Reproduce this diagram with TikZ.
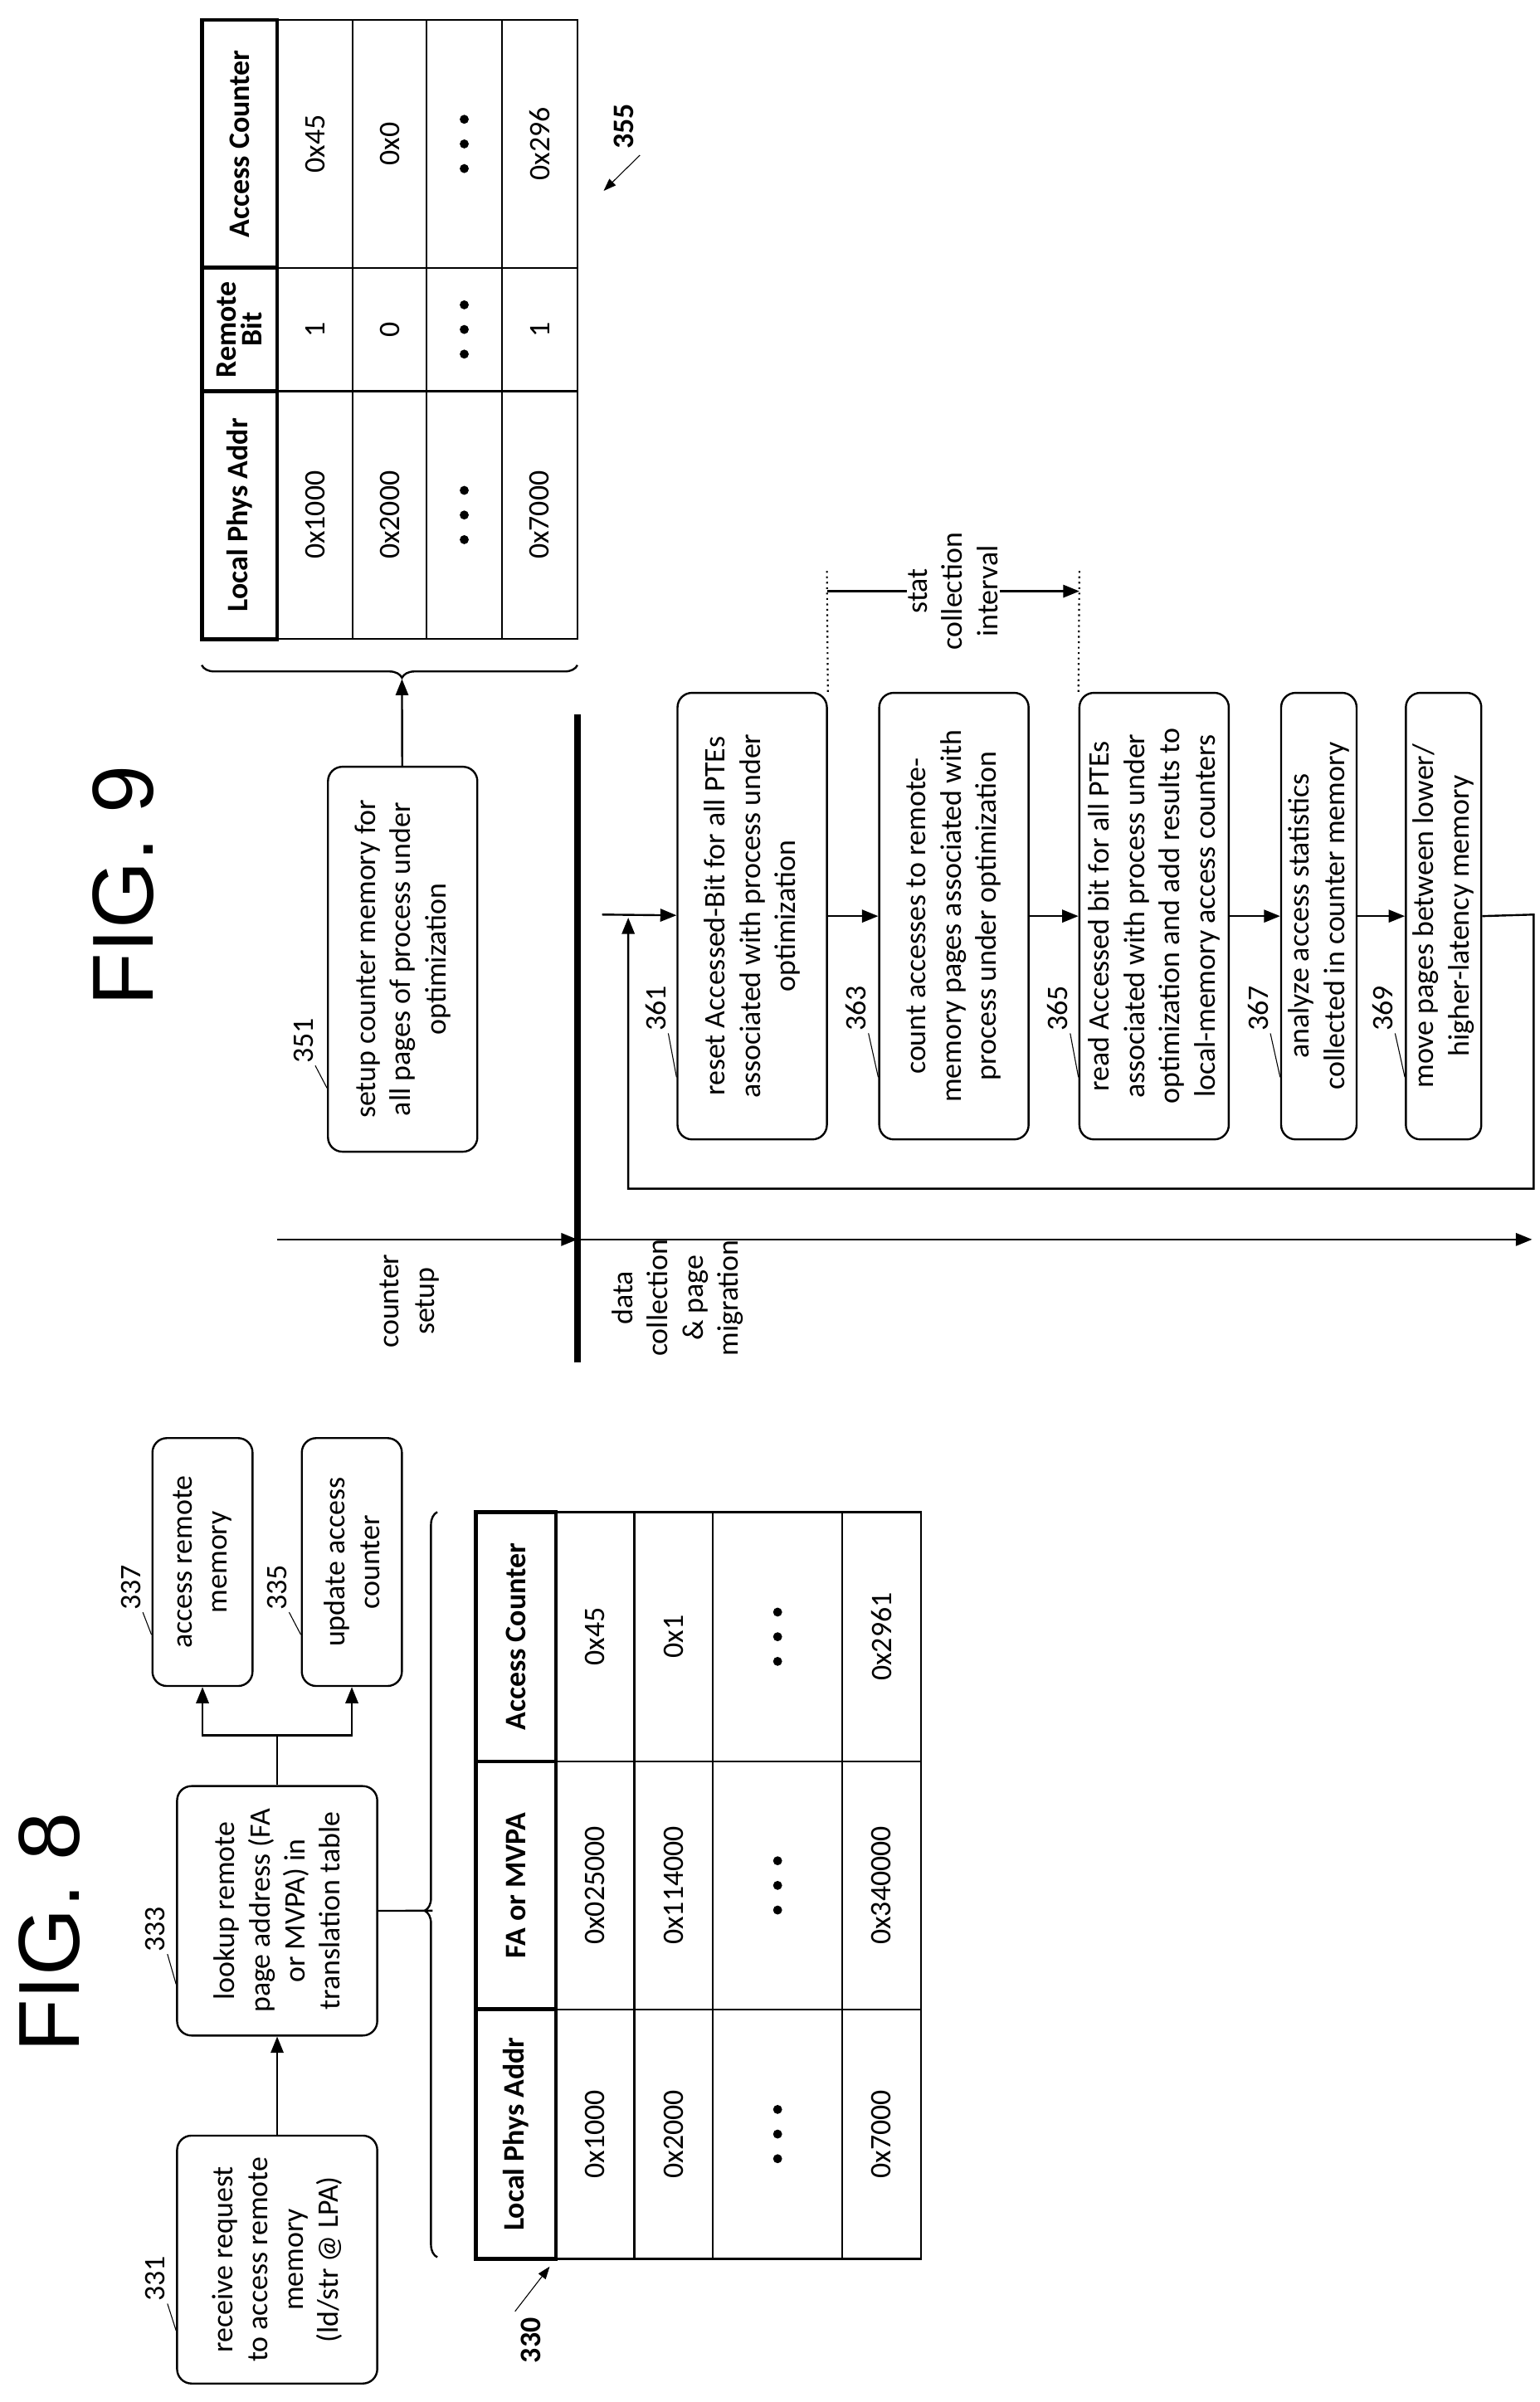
\documentclass[tikz,border=0pt]{standalone}
\usepackage{fontspec}
\setmainfont{Carlito}
\newfontfamily\figfont{Liberation Sans}
\usetikzlibrary{arrows.meta,calc,decorations.pathreplacing}
\begin{document}
\begin{tikzpicture}[x=0.3mm,y=0.3mm]
 \tikzset{box/.style={draw, rounded corners=8pt, line width=1.1pt, align=center, inner sep=1pt, font=\fontsize{16.5}{19.5}\selectfont},
   bw/.style={minimum width=0.3mm*#1},
   bh/.style={minimum height=0.3mm*#1},
   num/.style={font=\fontsize{16.5}{19.5}\selectfont, inner sep=1pt},
   cell/.style={font=\fontsize{16.5}{19.5}\selectfont, align=center},
   head/.style={font=\bfseries\fontsize{16.5}{17}\selectfont, align=center},
   fig/.style={font=\figfont\fontsize{48}{50}\selectfont},
   directed/.style={-{Triangle[length=9pt,width=7pt]}, line width=1.1pt},
   leader/.style={line width=0.5pt},
   brc/.style={decorate, line width=1.1pt, decoration={brace, amplitude=7pt}}}
\begin{scope}[rotate=90, transform shape]
  \useasboundingbox (0,0) rectangle (1560,-1000);
  % FIG. 8
  \node[fig] (F8) at (305,-32) {FIG. 8};
  \node[box, bw=161, bh=130] (n331) at (92.5,-180) {receive request\\to access remote\\memory\\(ld/str @ LPA)};
  \node[box, bw=162, bh=130] (n333) at (319,-180) {lookup remote\\page address (FA\\or MVPA) in\\translation table};
  \node[box, bw=161, bh=65] (n337) at (545.5,-131.5) {access remote\\memory};
  \node[box, bw=161, bh=65] (n335) at (545.5,-228.5) {update access\\counter};
  \node[num] (l331) at (80,-101) {331};
  \node[num] (l333) at (307,-101) {333};
  \node[num] (l337) at (529,-85) {337};
  \node[num] (l335) at (529,-180) {335};
  \draw[leader] (l331.south west) -- ($(n331.north west)+(35,0)$);
  \draw[leader] (l333.south west) -- ($(n333.north west)+(34,0)$);
  \draw[leader] (l337.south west) -- ($(n337.north west)+(34,0)$);
  \draw[leader] (l335.south west) -- ($(n335.north west)+(34,0)$);
  \draw[directed] (n331) -- (n333);
  \coordinate (br) at (433,-180);
  \draw[line width=1.1pt] (n333) -- (br);
  \draw[directed] (br) |- (n337);
  \draw[directed] (br) |- (n335);
  % table 330
  \draw[brc, decoration={aspect=0.465}] (94,-284) -- (578,-284) coordinate[pos=0.465] (b8);
  \draw[line width=1.1pt] (n333.south) -- ($(b8)+(0,3)$);
  \foreach \ya/\yb in {-361/-412, -412/-463, -463/-547, -547/-598}
    \draw[line width=1.1pt] (93,\ya) rectangle (578,\yb);
  \foreach \xa in {255,416}
    \draw[line width=1.1pt] (\xa,-361) -- (\xa,-598);
  \foreach \xa/\xb/\t in {93/255/Local Phys Addr, 255/416/FA or MVPA, 416/578/Access Counter}
    \draw[line width=2.2pt] (\xa,-309) rectangle (\xb,-361) node[head, midway] {\t};
  \foreach \y/\a/\b/\c in {-386.5/0x1000/0x025000/0x45, -437.5/0x2000/0x114000/0x1, -572.5/0x7000/0x340000/0x2961}
  {
    \node[cell] at (174,\y) {\a};
    \node[cell] at (335.5,\y) {\b};
    \node[cell] at (497,\y) {\c};
  }
  \foreach \x in {174,335.5,497}
    \foreach \d in {-16,0,16}
      \fill (\x+\d,-505) circle[radius=2.5pt];
  \node[font=\bfseries\fontsize{16.5}{19.5}\selectfont] (l330) at (40,-345) {330};
  \coordinate (t330) at (88,-357);
  \draw[leader, -{Triangle[length=7pt,width=5pt]}] (l330.north east) -- (t330);
  % FIG. 9
  \node[fig] (F9) at (985,-80) {FIG. 9};
  \node[box, bw=250, bh=97] (n351) at (937,-261.5) {setup counter memory for\\all pages of process under\\optimization};
  \node[num] (l351) at (884,-197) {351};
  \draw[leader] (l351.south west) -- ($(n351.north west)+(42,0)$);
  % table 355
  \draw[brc, decoration={aspect=0.467}] (1128,-375) -- (1128,-131) coordinate[pos=0.467] (b9);
  \draw[directed] (n351) -- ($(b9)+(-9,0)$);
  \foreach \ya/\yb in {-180/-229, -229/-277, -277/-326, -326/-375}
    \draw[line width=1.1pt] (1145,\ya) rectangle (1547,\yb);
  \foreach \xa in {1306,1386}
    \draw[line width=1.1pt] (\xa,-180) -- (\xa,-375);
  \foreach \xa/\xb/\t in {1145/1306/Local Phys Addr, 1306/1386/{Remote\\[-3pt]Bit}, 1386/1547/Access Counter}
    \draw[line width=2.2pt] (\xa,-131) rectangle (\xb,-180) node[head, midway] {\t};
  \foreach \y/\a/\b/\c in {-204.5/0x1000/1/0x45, -253/0x2000/0/0x0, -350.5/0x7000/1/0x296}
  {
    \node[cell] at (1225.5,\y) {\a};
    \node[cell] at (1346,\y) {\b};
    \node[cell] at (1466.5,\y) {\c};
  }
  \foreach \x in {1225.5,1346,1466.5}
    \foreach \d in {-16,0,16}
      \fill (\x+\d,-301.5) circle[radius=2.5pt];
  \node[font=\bfseries\fontsize{16.5}{19.5}\selectfont] (l355) at (1478,-405) {355};
  \coordinate (t355) at (1436,-392);
  \draw[leader, -{Triangle[length=7pt,width=5pt]}] (l355.south west) -- (t355);
  % timeline
  \coordinate (ts) at (755,-180);
  \coordinate (tm) at (755,-375);
  \coordinate (te) at (755,-995);
  \draw[directed] (ts) -- (tm);
  \draw[directed] (tm) -- (te);
  \draw[line width=3.6pt] (675,-375) -- (1096,-375);
  \node[cell] (lcs) at (715,-266) {counter\\setup};
  \node[cell] (ldc) at (717,-440) {data\\collection\\\& page\\migration};
  % flow boxes
  \node[box, bw=290, bh=97] (n361) at (965,-488.5) {reset Accessed-Bit for all PTEs\\associated with process under\\optimization};
  \node[box, bw=290, bh=97] (n363) at (965,-619.5) {count accesses to remote-\\memory pages associated with\\process under optimization};
  \node[box, bw=290, bh=97] (n365) at (965,-749.5) {read Accessed bit for all PTEs\\associated with process under\\optimization and add results to\\local-memory access counters};
  \node[box, bw=290, bh=49] (n367) at (965,-856.5) {analyze access statistics\\collected in counter memory};
  \node[box, bw=290, bh=49] (n369) at (965,-937.5) {move pages between lower/\\higher-latency memory};
  \foreach \n/\y in {361/-426, 363/-556, 365/-687, 367/-817, 369/-898}
  {
    \node[num] (l\n) at (905,\y) {\n};
    \draw[leader] (l\n.south west) -- ($(n\n.north west)+(41,0)$);
  }
  \coordinate (fd) at (966,-391);
  \draw[directed] (fd) -- (n361);
  \draw[directed] (n361) -- (n363);
  \draw[directed] (n363) -- (n365);
  \draw[directed] (n365) -- (n367);
  \draw[directed] (n367) -- (n369);
  \coordinate (lp1) at (966,-996);
  \coordinate (lp2) at (788,-408);
  \coordinate (lp3) at (964,-408);
  \draw[directed] (n369.south) -- (lp1) -| (lp2) -- (lp3);
  % stat collection interval
  \coordinate (d1) at (1191,-537);
  \coordinate (d2) at (1191,-701);
  \draw[dotted, line width=1pt] (n361.south east) -- (d1);
  \draw[dotted, line width=1pt] (n365.north east) -- (d2);
  \draw[directed] (1176,-537) -- node[cell, fill=white, inner sep=1pt] (lst) {stat\\collection\\interval} (1176,-701);
\end{scope}
\end{tikzpicture}
\end{document}
